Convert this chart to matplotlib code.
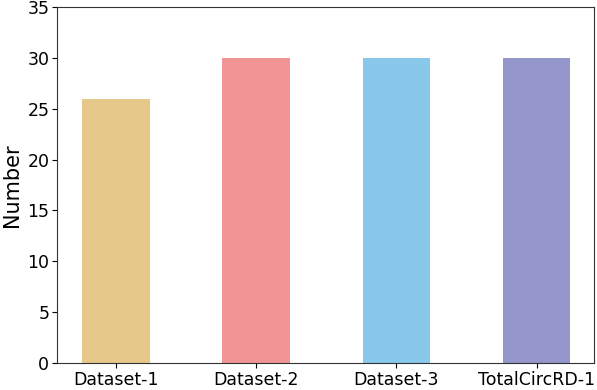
import matplotlib
matplotlib.use("Agg")
import matplotlib.pyplot as plt

categories = ["Dataset-1", "Dataset-2", "Dataset-3", "TotalCircRD-1"]
values = [26, 30, 30, 30]
colors = ["#E6C88A", "#F09496", "#88C8EA", "#9496CC"]

fig = plt.figure(figsize=(5.97, 3.90), dpi=100)
ax = fig.add_axes([57/597, 1 - 363/390, (594-57)/597, (363-7)/390])
x = list(range(len(categories)))
ax.bar(x, values, width=0.48, color=colors)
ax.set_xticks(x)
ax.set_xticklabels(categories, fontsize=12.5)
ax.set_xlim(-0.42, 3.41)
ax.set_ylim(0, 35)
ax.set_yticks(range(0, 36, 5))
ax.tick_params(axis='y', labelsize=12.5)
ax.tick_params(axis='both', pad=2)
ax.set_ylabel("Number", fontsize=15, labelpad=4)
for s in ax.spines.values():
    s.set_color("#333333")
fig.savefig("out.png", dpi=100)
